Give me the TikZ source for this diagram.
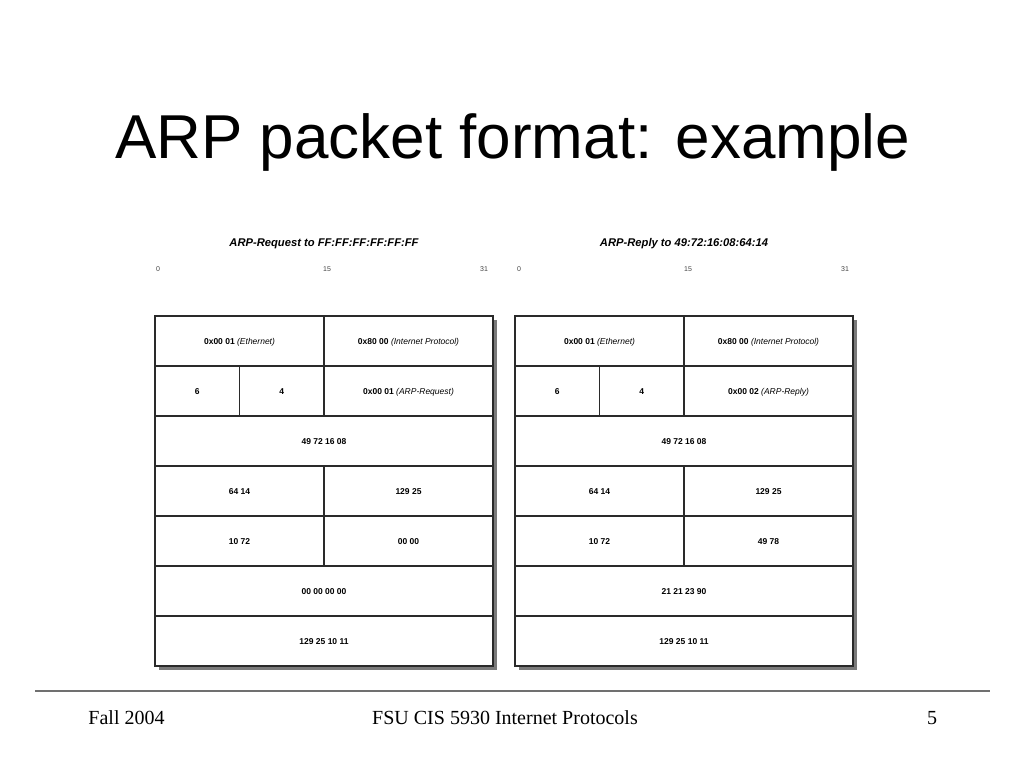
\documentclass[tikz,border=0pt]{standalone}
\usepackage{fontspec}
\setmainfont{Liberation Sans}
\newfontfamily\seriffont{Liberation Serif}
\definecolor{boxline}{HTML}{2A2A2A}
\definecolor{shadowgray}{HTML}{7A7A7A}
\definecolor{bitgray}{HTML}{444444}
\definecolor{rulegray}{HTML}{707070}
\tikzset{
  cell/.style={draw=boxline, line width=1.1pt, fill=white, inner sep=0pt,
    text height=6.1pt, text depth=0pt,
    font=\fontsize{8.5}{10}\selectfont\bfseries, align=center},
  subtitle/.style={font=\fontsize{11.2}{13}\selectfont\bfseries\itshape, anchor=base},
  bitnum/.style={font=\fontsize{7}{8}\selectfont, text=bitgray, anchor=base},
  footer/.style={font=\seriffont\fontsize{20}{24}\selectfont, anchor=base},
}
\newcommand\cellnode[6]{\node[cell, minimum width={#4pt-#2pt}, minimum height={#5pt-#3pt}]
  (#1) at ({(#2+#4)/2},{(#3+#5)/2}) {#6};}
\newcommand\shadowrect[4]{\fill[shadowgray] (#1+4,#2+4) rectangle (#3+4,#4+4);}
\newcommand\note[1]{{\mdseries\itshape #1}}
\begin{document}
\begin{tikzpicture}[x=1pt,y=-1pt]
\useasboundingbox[fill=white] (0,0) rectangle (1024,768);
% title
\node[font=\fontsize{62}{70}\selectfont, anchor=base] (title) at (512.5,158) {ARP packet format: example};
% subtitles
\node[subtitle] (lsub) at (324,246) {ARP-Request to FF:FF:FF:FF:FF:FF};
\node[subtitle] (rsub) at (684,246) {ARP-Reply to 49:72:16:08:64:14};
% bit numbers
\node[bitnum] (l0) at (158,271) {0};
\node[bitnum] (l15) at (327,271) {15};
\node[bitnum] (l31) at (484,271) {31};
\node[bitnum] (r0) at (519,271) {0};
\node[bitnum] (r15) at (688,271) {15};
\node[bitnum] (r31) at (845,271) {31};
% ---------- left panel shadows
\shadowrect{155}{316}{493}{416}
\shadowrect{155}{416}{493}{466}
\shadowrect{155}{466}{493}{566}
\shadowrect{155}{566}{493}{666}
% left panel cells
\cellnode{lhw}{155}{316}{324}{366}{0x00 01 \note{(Ethernet)}}
\cellnode{lpr}{324}{316}{493}{366}{0x80 00 \note{(Internet Protocol)}}
\cellnode{lhl}{155}{366}{239.5}{416}{6}
\cellnode{lpl}{239.5}{366}{324}{416}{4}
\cellnode{lop}{324}{366}{493}{416}{0x00 01 \note{(ARP-Request)}}
\cellnode{lsha}{155}{416}{493}{466}{49 72 16 08}
\cellnode{lshb}{155}{466}{324}{516}{64 14}
\cellnode{lspa}{324}{466}{493}{516}{129 25}
\cellnode{lspb}{155}{516}{324}{566}{10 72}
\cellnode{ltha}{324}{516}{493}{566}{00 00}
\cellnode{lthb}{155}{566}{493}{616}{00 00 00 00}
\cellnode{ltpa}{155}{616}{493}{666}{129 25 10 11}
% ---------- right panel shadows
\shadowrect{515}{316}{853}{416}
\shadowrect{515}{416}{853}{466}
\shadowrect{515}{466}{853}{566}
\shadowrect{515}{566}{853}{666}
% right panel cells
\cellnode{rhw}{515}{316}{684}{366}{0x00 01 \note{(Ethernet)}}
\cellnode{rpr}{684}{316}{853}{366}{0x80 00 \note{(Internet Protocol)}}
\cellnode{rhl}{515}{366}{599.5}{416}{6}
\cellnode{rpl}{599.5}{366}{684}{416}{4}
\cellnode{rop}{684}{366}{853}{416}{0x00 02 \note{(ARP-Reply)}}
\cellnode{rsha}{515}{416}{853}{466}{49 72 16 08}
\cellnode{rshb}{515}{466}{684}{516}{64 14}
\cellnode{rspa}{684}{466}{853}{516}{129 25}
\cellnode{rspb}{515}{516}{684}{566}{10 72}
\cellnode{rtha}{684}{516}{853}{566}{49 78}
\cellnode{rthb}{515}{566}{853}{616}{21 21 23 90}
\cellnode{rtpa}{515}{616}{853}{666}{129 25 10 11}
% footer
\coordinate (ruleL) at (35,691);
\coordinate (ruleR) at (990,691);
\draw[rulegray, line width=1.6pt] (ruleL) -- (ruleR);
\node[footer] (fleft) at (126.5,724) {Fall 2004};
\node[footer] (fmid) at (505,724) {FSU CIS 5930 Internet Protocols};
\node[footer] (fright) at (932,724) {5};
\end{tikzpicture}
\end{document}
